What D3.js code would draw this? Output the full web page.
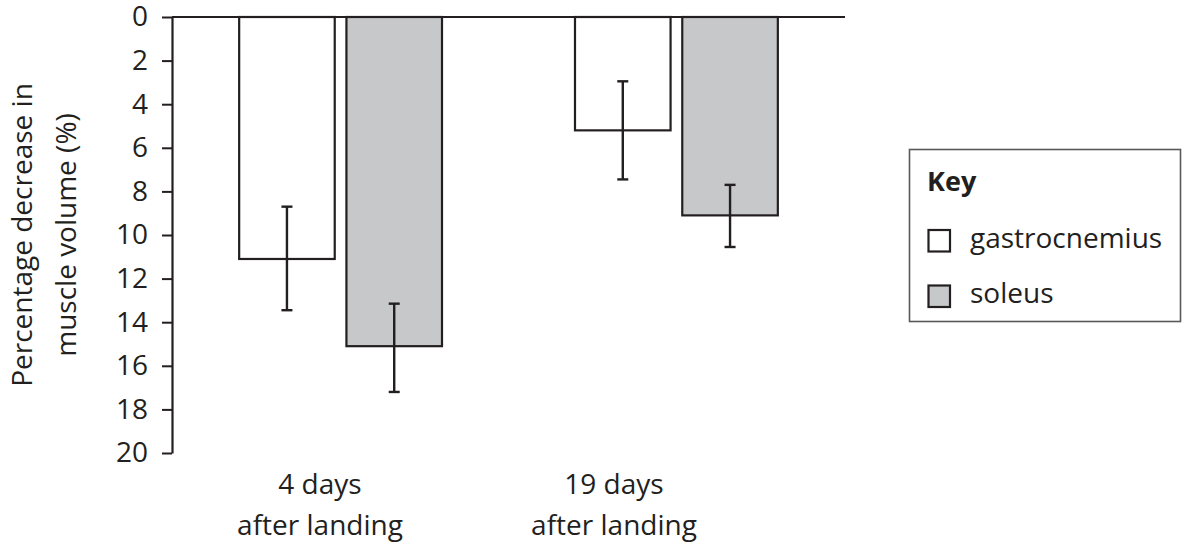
<!DOCTYPE html>
<html>
<head>
<meta charset="utf-8">
<script src="https://cdn.jsdelivr.net/npm/d3@7"></script>
<style>
  body { margin: 0; background: #fff; }
  svg { display: block; font-family: "Open Sans", sans-serif; }
</style>
</head>
<body>
<svg id="chart" width="1187" height="548"></svg>
<script>
// data
const categories = ['4 days', '19 days'];
const categoryLines = [['4 days', 'after landing'], ['19 days', 'after landing']];
const seriesNames = ['gastrocnemius', 'soleus'];
const gastrocnemius = [11.1, 5.2];
const soleus = [15.1, 9.1];
const gastrocnemiusErrLow = [8.7, 2.95];
const gastrocnemiusErrHigh = [13.45, 7.45];
const soleusErrLow = [13.15, 7.7];
const soleusErrHigh = [17.2, 10.55];
const yTicks = [0, 2, 4, 6, 8, 10, 12, 14, 16, 18, 20];

const ink = '#231f20';
const fills = { gastrocnemius: '#ffffff', soleus: '#c7c8ca' };

const svg = d3.select('#chart');

const y = d3.scaleLinear().domain([0, 20]).range([17, 453]);

const x0 = d3.scaleBand()
    .domain(categories)
    .range([172, 845])
    .paddingInner(0.396)
    .paddingOuter(0.2);

const x1 = d3.scaleBand()
    .domain(seriesNames)
    .range([0, x0.bandwidth()])
    .paddingInner(0.109);

// category labels sit a bit left of the bar groups
const xLabel = d3.scalePoint().domain(categories).range([320, 614]);

const rows = categories.map((c, i) => ({
    cat: c,
    values: [
        { name: 'gastrocnemius', v: gastrocnemius[i], lo: gastrocnemiusErrLow[i], hi: gastrocnemiusErrHigh[i] },
        { name: 'soleus', v: soleus[i], lo: soleusErrLow[i], hi: soleusErrHigh[i] }
    ]
}));

// bars
const groups = svg.append('g')
    .selectAll('g')
    .data(rows)
    .join('g')
    .attr('transform', d => `translate(${x0(d.cat)},0)`);

groups.selectAll('rect')
    .data(d => d.values)
    .join('rect')
    .attr('x', d => x1(d.name))
    .attr('y', y(0))
    .attr('width', x1.bandwidth())
    .attr('height', d => y(d.v) - y(0))
    .attr('fill', d => fills[d.name])
    .attr('stroke', ink)
    .attr('stroke-width', 2.2);

// error bars
const err = groups.selectAll('g.err')
    .data(d => d.values)
    .join('g')
    .attr('class', 'err')
    .attr('transform', d => `translate(${x1(d.name) + x1.bandwidth() / 2},0)`)
    .attr('stroke', ink)
    .attr('stroke-width', 2.4);

err.append('line')
    .attr('y1', d => y(d.lo)).attr('y2', d => y(d.hi));
err.append('line')
    .attr('x1', -5.5).attr('x2', 5.5)
    .attr('y1', d => y(d.lo)).attr('y2', d => y(d.lo));
err.append('line')
    .attr('x1', -5.5).attr('x2', 5.5)
    .attr('y1', d => y(d.hi)).attr('y2', d => y(d.hi));

// top baseline (zero line)
svg.append('line')
    .attr('x1', 172).attr('x2', 845)
    .attr('y1', y(0)).attr('y2', y(0))
    .attr('stroke', ink).attr('stroke-width', 2.2);

// y axis
const yAxis = svg.append('g')
    .attr('transform', 'translate(172,0)')
    .call(d3.axisLeft(y).tickValues(yTicks).tickSize(10).tickPadding(14).tickSizeOuter(0));
yAxis.select('.domain').attr('stroke', ink).attr('stroke-width', 2.2);
yAxis.selectAll('.tick line').attr('stroke', ink).attr('stroke-width', 2);
yAxis.selectAll('.tick text')
    .attr('fill', ink)
    .style('font-size', '28px')
    .style('font-family', '"Open Sans", sans-serif');

// y axis title
const yTitle = svg.append('text')
    .attr('transform', 'translate(0,235) rotate(-90)')
    .attr('text-anchor', 'middle')
    .attr('fill', ink)
    .style('font-size', '28px');
yTitle.append('tspan').attr('x', 0).attr('y', 32).text('Percentage decrease in');
yTitle.append('tspan').attr('x', 0).attr('y', 76).text('muscle volume (%)');

// category labels
const catText = svg.append('g')
    .selectAll('text')
    .data(categories)
    .join('text')
    .attr('text-anchor', 'middle')
    .attr('fill', ink)
    .style('font-size', '28px');
catText.append('tspan')
    .attr('x', d => xLabel(d)).attr('y', 494)
    .text((d, i) => categoryLines[i][0]);
catText.append('tspan')
    .attr('x', d => xLabel(d)).attr('y', 535)
    .text((d, i) => categoryLines[i][1]);

// legend
const legend = svg.append('g');
legend.append('rect')
    .attr('x', 909.5).attr('y', 149.5)
    .attr('width', 271).attr('height', 172)
    .attr('fill', 'none')
    .attr('stroke', '#58595b')
    .attr('stroke-width', 1.6);
legend.append('text')
    .attr('x', 927).attr('y', 191)
    .attr('fill', ink)
    .style('font-size', '27px')
    .style('font-weight', 'bold')
    .text('Key');

const items = legend.selectAll('g.item')
    .data(seriesNames)
    .join('g')
    .attr('class', 'item')
    .attr('transform', (d, i) => `translate(0,${i * 55.5})`);
items.append('rect')
    .attr('x', 928.5).attr('y', 230)
    .attr('width', 21.5).attr('height', 21.5)
    .attr('fill', d => fills[d])
    .attr('stroke', ink)
    .attr('stroke-width', 2.2);
items.append('text')
    .attr('x', 970).attr('y', 247.5)
    .attr('fill', ink)
    .style('font-size', '28px')
    .text(d => d);
</script>
</body>
</html>
